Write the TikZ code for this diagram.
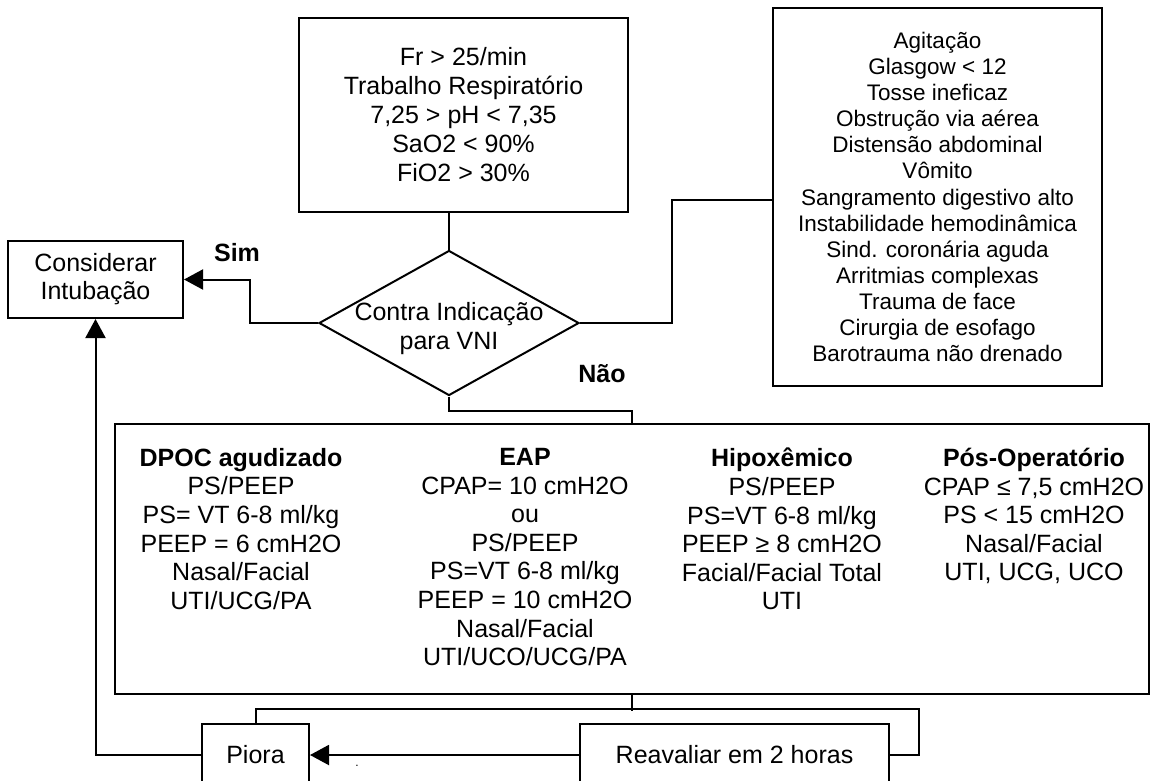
\documentclass[tikz,border=0pt]{standalone}
\usepackage{fontspec}
\setmainfont{Liberation Sans}
\usetikzlibrary{arrows.meta,positioning,calc,shapes.geometric}
\definecolor{ink}{HTML}{000000}
\tikzset{
  box/.style={draw=ink,line width=2pt,align=center,inner sep=0pt,font=\fontsize{25}{29}\selectfont},
  dmd/.style={draw=ink,line width=2pt,diamond,inner sep=0pt,minimum width=260pt,minimum height=145pt},
  txt/.style={align=center,inner sep=0pt,font=\fontsize{25}{29}\selectfont},
  col/.style={align=center,inner sep=0pt,anchor=north,font=\fontsize{25}{28.6}\selectfont},
  yn/.style={inner sep=0pt,font=\fontsize{25}{29}\selectfont\bfseries},
  wire/.style={draw=ink,line width=2pt},
  arr/.style={wire,-{Triangle[length=19pt,width=20pt]}}
}

\begin{document}
\begin{tikzpicture}[x=1pt,y=-1pt]
 \useasboundingbox (0,0) rectangle (1151,780);
 \clip (0,0) rectangle (1151,780);
 % criterios e contra indicacoes
 \node[box,minimum width=329pt,minimum height=194pt] (crit) at (463.5,115)
   {Fr > 25/min\\Trabalho Respiratório\\7,25 > pH < 7,35\\SaO2 < 90\%\\FiO2 > 30\%};
 \node[box,minimum width=329pt,minimum height=378pt,font=\fontsize{22.5}{26.1}\selectfont] (contra) at (937.5,197)
   {Agitação\\Glasgow < 12\\Tosse ineficaz\\Obstrução via aérea\\Distensão abdominal\\Vômito\\Sangramento digestivo alto\\Instabilidade hemodinâmica\\Sind. coronária aguda\\Arritmias complexas\\Trauma de face\\Cirurgia de esofago\\Barotrauma não drenado};
 \node[dmd] (cvni) at (449,323) {};
 \node[txt] (cvnil) at (449,329) {Contra Indicação\\para VNI};
 \node[box,minimum width=175pt,minimum height=77pt,font=\fontsize{25}{28}\selectfont] (cint) at (95.5,279.5) {Considerar\\Intubação};
 \node[yn] (sim) at (237,253) {Sim};
 \node[yn] (nao) at (602,374) {Não};
 % modos de VNI
 \node[box,minimum width=1034pt,minimum height=270pt] (modes) at (632,559) {};
 \node[col] (dpoc) at (241,448) {\textbf{DPOC agudizado}\\PS/PEEP\\PS= VT 6-8 ml/kg\\PEEP = 6 cmH2O\\Nasal/Facial\\UTI/UCG/PA};
 \node[col] (eap) at (525,448) {\textbf{EAP}\\CPAP= 10 cmH2O\\ou\\PS/PEEP\\PS=VT 6-8 ml/kg\\PEEP = 10 cmH2O\\Nasal/Facial\\UTI/UCO/UCG/PA};
 \node[col] (hipo) at (782,448) {\textbf{Hipoxêmico}\\PS/PEEP\\PS=VT 6-8 ml/kg\\PEEP ≥ 8 cmH2O\\Facial/Facial Total\\UTI};
 \node[col] (posop) at (1034,448) {\textbf{Pós-Operatório}\\CPAP ≤ 7,5 cmH2O\\PS < 15 cmH2O\\Nasal/Facial\\UTI, UCG, UCO};
 % reavaliacao
 \node[box,minimum width=107pt,minimum height=62pt] (piora) at (255.5,755) {Piora};
 \node[box,minimum width=309pt,minimum height=62pt] (reav) at (734.5,755) {Reavaliar em 2 horas};
 \node[inner sep=0pt,font=\fontsize{12}{14}\selectfont,anchor=base] (dot) at (357,766) {.};
 \coordinate (kc) at (672,200);
 \draw[wire] (cvni.north) -- (cvni.north |- crit.south);
 \draw[wire] (cvni.east) -| (kc) -- (kc -| contra.west);
 \draw[arr] (cvni.west) -- ++(-68,0) |- (cint.east);
 \draw[wire] (cvni.south) -- ++(0,14) -| (modes.north);
 \draw[wire] (modes.south) -- ++(0,16);
 \draw[wire] (piora.north) -- ++(0,-14) -| ($(reav.east)+(29,0)$) -- (reav.east);
 \draw[arr] (reav.west) -- (piora.east);
 \draw[arr] (piora.west) -| (cint.south);
\end{tikzpicture}
\end{document}
